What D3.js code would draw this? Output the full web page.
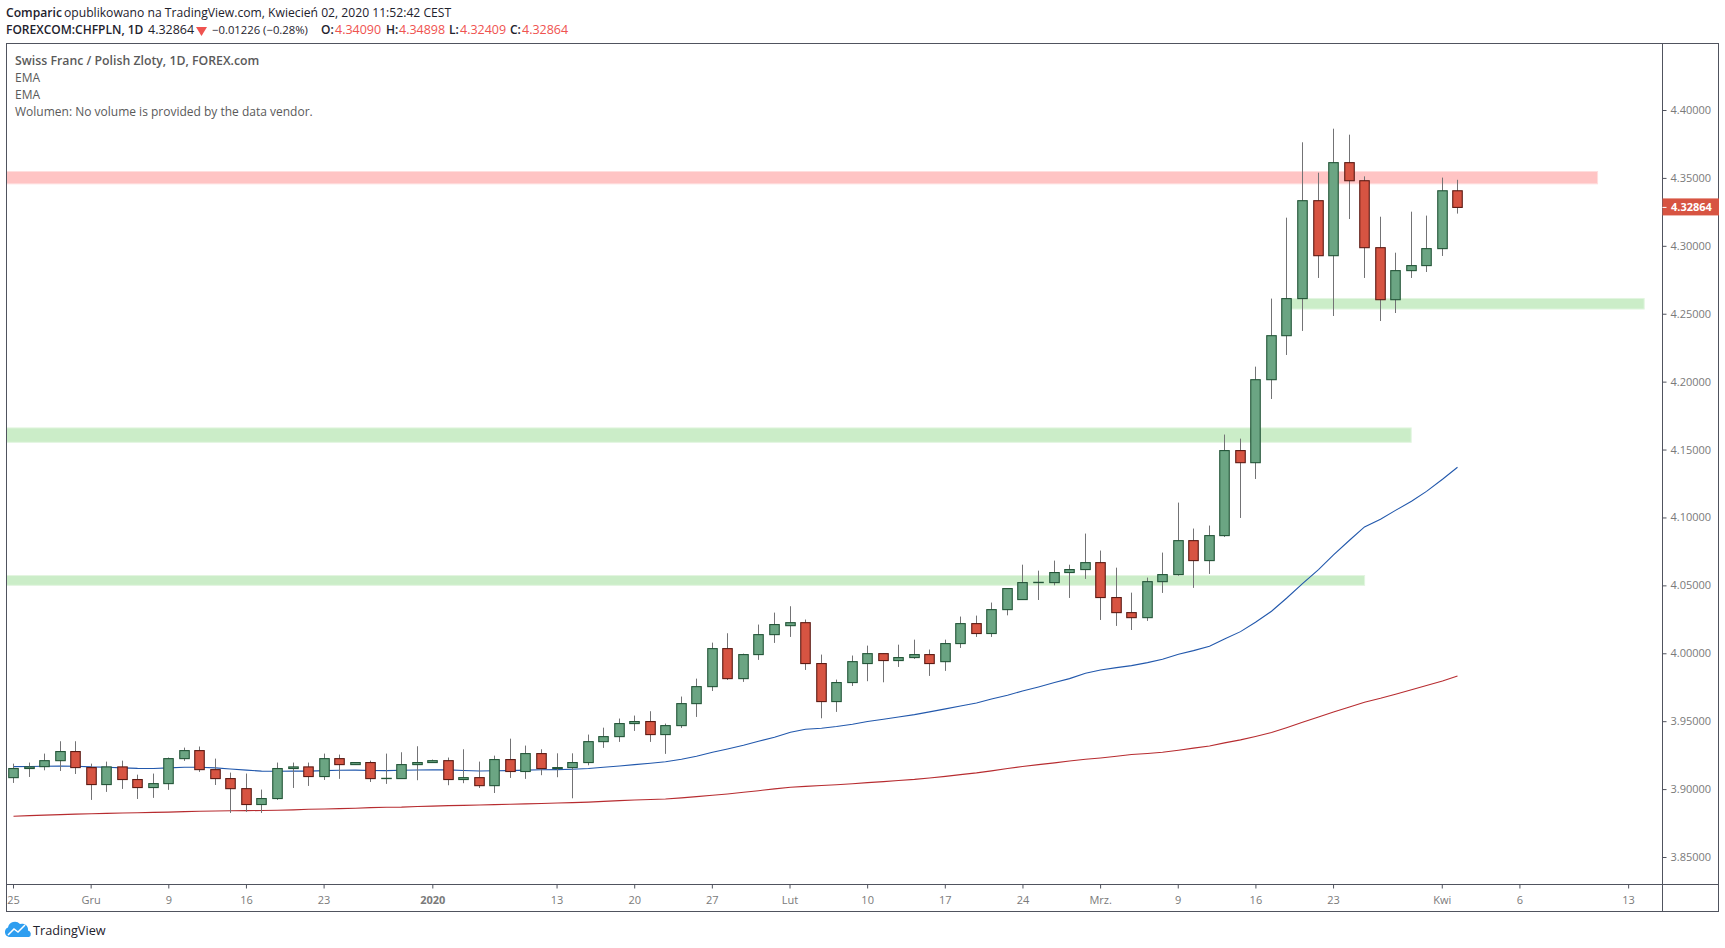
<!DOCTYPE html>
<html>
<head>
<meta charset="utf-8">
<script src="https://cdn.jsdelivr.net/npm/d3@7"></script>
<style>
  html, body { margin: 0; padding: 0; background: #fff; }
  svg { display: block; }
  text { font-family: "Open Sans", sans-serif; }
  .axis path.domain { display: none; }
  .axis line { stroke: #50535e; }
  .axis text { fill: #7a7a7a; font-size: 11px; font-family: "Open Sans", sans-serif; }
</style>
</head>
<body>
<svg id="chart" width="1725" height="948"></svg>
<script>
// CHF/PLN daily candles (index 0 = 25 Nov 2019, weekdays only)
const opens = [
  3.9088, 3.9155, 3.9169, 3.9213, 3.9280, 3.9162, 3.9037, 3.9167, 3.9074, 3.9015,
  3.9044, 3.9228, 3.9287, 3.9147, 3.9081, 3.9007, 3.8890, 3.8934, 3.9155, 3.9167,
  3.9096, 3.9228, 3.9184, 3.9199, 3.9081, 3.9081, 3.9184, 3.9199, 3.9213, 3.9074,
  3.9088, 3.9029, 3.9221, 3.9133, 3.9265, 3.9155, 3.9162, 3.9199, 3.9353, 3.9390,
  3.9486, 3.9501, 3.9405, 3.9471, 3.9633, 3.9758, 4.0038, 3.9817, 3.9994, 4.0141,
  4.0207, 4.0229, 3.9928, 3.9648, 3.9788, 3.9928, 4.0001, 3.9950, 3.9972, 3.9994,
  3.9942, 4.0075, 4.0222, 4.0149, 4.0325, 4.0399, 4.0524, 4.0524, 4.0598, 4.0620,
  4.0671, 4.0414, 4.0303, 4.0266, 4.0531, 4.0583, 4.0833, 4.0686, 4.0870, 4.1496,
  4.1407, 4.2018, 4.2342, 4.2615, 4.3336, 4.2931, 4.3616, 4.3483, 4.2990, 4.2607,
  4.2821, 4.2858, 4.2983, 4.3409
];
const highs = [
  3.9191, 3.9199, 3.9265, 3.9356, 3.9356, 3.9191, 3.9206, 3.9213, 3.9110, 3.9118,
  3.9236, 3.9309, 3.9317, 3.9228, 3.9125, 3.9118, 3.9000, 3.9199, 3.9199, 3.9199,
  3.9265, 3.9258, 3.9199, 3.9213, 3.9265, 3.9275, 3.9319, 3.9221, 3.9236, 3.9297,
  3.9206, 3.9250, 3.9375, 3.9324, 3.9297, 3.9267, 3.9267, 3.9405, 3.9456, 3.9523,
  3.9545, 3.9577, 3.9486, 3.9685, 3.9817, 4.0082, 4.0151, 4.0001, 4.0215, 4.0303,
  4.0350, 4.0252, 3.9994, 3.9810, 3.9987, 4.0060, 4.0003, 4.0067, 4.0104, 4.0031,
  4.0104, 4.0274, 4.0281, 4.0377, 4.0480, 4.0656, 4.0612, 4.0686, 4.0656, 4.0885,
  4.0760, 4.0634, 4.0450, 4.0561, 4.0745, 4.1113, 4.0922, 4.0944, 4.1614, 4.1584,
  4.2114, 4.2615, 4.3211, 4.3766, 4.3542, 4.3866, 4.3822, 4.3515, 4.3218, 4.2953,
  4.3255, 4.3226, 4.3506, 4.34898
];
const lows = [
  3.9049, 3.9093, 3.9142, 3.9137, 3.9115, 3.8924, 3.8983, 3.9005, 3.8931, 3.8939,
  3.8998, 3.9211, 3.9130, 3.9034, 3.8828, 3.8836, 3.8828, 3.8924, 3.9012, 3.9027,
  3.9071, 3.9079, 3.9184, 3.9056, 3.9042, 3.9081, 3.9069, 3.9199, 3.9032, 3.9047,
  3.9012, 3.8975, 3.9086, 3.9079, 3.9106, 3.9091, 3.8936, 3.9179, 3.9307, 3.9351,
  3.9432, 3.9351, 3.9263, 3.9454, 3.9535, 3.9726, 3.9807, 3.9793, 3.9955, 4.0080,
  4.0124, 3.9881, 3.9525, 3.9572, 3.9763, 3.9798, 3.9790, 3.9903, 3.9962, 3.9837,
  3.9874, 4.0043, 4.0124, 4.0124, 4.0283, 4.0399, 4.0396, 4.0504, 4.0411, 4.0551,
  4.0249, 4.0205, 4.0175, 4.0242, 4.0448, 4.0575, 4.0485, 4.0588, 4.0860, 4.1000,
  4.1287, 4.1876, 4.2200, 4.2377, 4.2767, 4.2487, 4.3201, 4.2767, 4.2450, 4.2509,
  4.2767, 4.2811, 4.2929, 4.32409
];
const closes = [
  3.9155, 3.9167, 3.9213, 3.9280, 3.9162, 3.9037, 3.9167, 3.9074, 3.9015, 3.9044,
  3.9228, 3.9287, 3.9147, 3.9081, 3.9007, 3.8890, 3.8934, 3.9155, 3.9167, 3.9096,
  3.9228, 3.9184, 3.9199, 3.9081, 3.9083, 3.9184, 3.9199, 3.9213, 3.9074, 3.9088,
  3.9029, 3.9221, 3.9133, 3.9265, 3.9155, 3.9162, 3.9199, 3.9353, 3.9390, 3.9486,
  3.9501, 3.9405, 3.9471, 3.9633, 3.9758, 4.0038, 3.9817, 3.9994, 4.0141, 4.0215,
  4.0229, 3.9928, 3.9648, 3.9788, 3.9942, 4.0001, 3.9950, 3.9972, 3.9994, 3.9928,
  4.0075, 4.0222, 4.0149, 4.0325, 4.0480, 4.0524, 4.0526, 4.0598, 4.0620, 4.0671,
  4.0414, 4.0303, 4.0266, 4.0531, 4.0583, 4.0833, 4.0686, 4.0870, 4.1496, 4.1407,
  4.2018, 4.2342, 4.2615, 4.3336, 4.2931, 4.3616, 4.3483, 4.2990, 4.2607, 4.2821,
  4.2858, 4.2983, 4.3409, 4.32864
];
const emaFast = [
  3.9169, 3.9170, 3.9172, 3.9174, 3.9172, 3.9167, 3.9165, 3.9160, 3.9156, 3.9155,
  3.9160, 3.9164, 3.9164, 3.9160, 3.9152, 3.9143, 3.9136, 3.9135, 3.9136, 3.9136,
  3.9140, 3.9142, 3.9143, 3.9141, 3.9140, 3.9142, 3.9144, 3.9145, 3.9145, 3.9141,
  3.9137, 3.9139, 3.9140, 3.9143, 3.9146, 3.9147, 3.9150, 3.9155, 3.9164, 3.9174,
  3.9184, 3.9194, 3.9205, 3.9224, 3.9245, 3.9275, 3.9299, 3.9326, 3.9356, 3.9385,
  3.9422, 3.9444, 3.9452, 3.9464, 3.9481, 3.9501, 3.9518, 3.9535, 3.9552, 3.9572,
  3.9594, 3.9616, 3.9638, 3.9667, 3.9694, 3.9726, 3.9756, 3.9788, 3.9817, 3.9856,
  3.9881, 3.9898, 3.9913, 3.9935, 3.9960, 3.9996, 4.0023, 4.0055, 4.0109, 4.0163,
  4.0232, 4.0313, 4.0409, 4.0517, 4.0620, 4.0728, 4.0836, 4.0934, 4.0990, 4.1056,
  4.1123, 4.1196, 4.1285, 4.1373
];
const emaSlow = [
  3.8804, 3.8808, 3.8812, 3.8816, 3.8819, 3.8822, 3.8825, 3.8828, 3.8830, 3.8832,
  3.8834, 3.8838, 3.8840, 3.8842, 3.8844, 3.8845, 3.8846, 3.8848, 3.8851, 3.8855,
  3.8857, 3.8860, 3.8863, 3.8867, 3.8870, 3.8871, 3.8875, 3.8878, 3.8882, 3.8884,
  3.8887, 3.8889, 3.8892, 3.8895, 3.8898, 3.8901, 3.8904, 3.8908, 3.8913, 3.8919,
  3.8923, 3.8927, 3.8931, 3.8939, 3.8948, 3.8958, 3.8968, 3.8980, 3.8992, 3.9005,
  3.9017, 3.9024, 3.9030, 3.9036, 3.9043, 3.9051, 3.9059, 3.9067, 3.9075, 3.9085,
  3.9097, 3.9110, 3.9123, 3.9138, 3.9155, 3.9170, 3.9184, 3.9197, 3.9210, 3.9223,
  3.9233, 3.9246, 3.9258, 3.9266, 3.9275, 3.9290, 3.9305, 3.9321, 3.9344, 3.9366,
  3.9391, 3.9420, 3.9456, 3.9496, 3.9534, 3.9572, 3.9608, 3.9643, 3.9672, 3.9702,
  3.9735, 3.9767, 3.9800, 3.9836
];

// support / resistance boxes: [first bar, last bar, top price, bottom price, kind]
const zones = [
  [-1, 102, 4.3551, 4.3460, 'red'],
  [82, 105, 4.2616, 4.2538, 'green'],
  [-1, 90, 4.1663, 4.1557, 'green'],
  [-1, 87, 4.0576, 4.0504, 'green']
];

const priceTicks = [3.85, 3.90, 3.95, 4.00, 4.05, 4.10, 4.15, 4.20, 4.25, 4.30, 4.35, 4.40];
// after the last bar the time scale counts calendar days, so Kwi -> 6 is 5 slots
const timeTickBars = [0, 5, 10, 15, 20, 27, 35, 40, 45, 50, 55, 60, 65, 70, 75, 80, 85, 92, 97, 104];
const timeTickLabels = ['25', 'Gru', '9', '16', '23', '2020', '13', '20', '27', 'Lut', '10', '17', '24', 'Mrz.', '9', '16', '23', 'Kwi', '6', '13'];

const lastPrice = 4.32864;

const upFill = '#6ba583', upEdge = '#225437';
const downFill = '#d75442', downEdge = '#5b1a13';
const frameColor = '#50535e';

const plotLeft = 6.5, plotTop = 43.5, plotRight = 1662.5, plotBottom = 884.5, outerRight = 1718.5, outerBottom = 911.5;

const svg = d3.select('#chart');
const x = d3.scaleLinear().domain([0, 93]).range([13.5, 1457.8]);
const y = d3.scaleLinear().domain([3.85, 4.40]).range([857.5, 110.5]);
const snap = i => Math.floor(x(i)) + 0.5;

const defs = svg.append('defs');
defs.append('clipPath').attr('id', 'plotClip').append('rect')
  .attr('x', plotLeft).attr('y', plotTop).attr('width', plotRight - plotLeft).attr('height', plotBottom - plotTop);

const plot = svg.append('g').attr('clip-path', 'url(#plotClip)');

// zones
plot.selectAll('rect.zone').data(zones).join('rect')
  .attr('class', 'zone')
  .attr('x', d => x(d[0]))
  .attr('y', d => y(d[2]))
  .attr('width', d => x(d[1]) - x(d[0]))
  .attr('height', d => y(d[3]) - y(d[2]))
  .attr('fill', d => d[4] === 'red' ? '#ffc4c4' : '#cbedc8')
  .attr('stroke', d => d[4] === 'red' ? '#ffdede' : '#e2f5e0')
  .attr('stroke-width', 1);

// EMA lines
const line = d3.line().x((d, i) => snap(i)).y(d => y(d));
plot.append('path').datum(emaSlow).attr('d', line)
  .attr('fill', 'none').attr('stroke', '#b72c30').attr('stroke-width', 1.1);
plot.append('path').datum(emaFast).attr('d', line)
  .attr('fill', 'none').attr('stroke', '#2258ac').attr('stroke-width', 1.1);

// candles
const bars = d3.range(opens.length);
plot.selectAll('line.wick').data(bars).join('line')
  .attr('class', 'wick')
  .attr('x1', snap).attr('x2', snap)
  .attr('y1', i => y(highs[i])).attr('y2', i => y(lows[i]))
  .attr('stroke', '#737375').attr('stroke-width', 1);

plot.selectAll('rect.body').data(bars).join('rect')
  .attr('class', 'body')
  .attr('x', i => snap(i) - 4.75)
  .attr('width', 9.5)
  .attr('y', i => y(Math.max(opens[i], closes[i])))
  .attr('height', i => Math.abs(y(opens[i]) - y(closes[i])))
  .attr('fill', i => closes[i] >= opens[i] ? upFill : downFill)
  .attr('stroke', i => closes[i] >= opens[i] ? upEdge : downEdge)
  .attr('stroke-width', 1.1);

// frame
svg.append('rect').attr('x', plotLeft).attr('y', plotTop)
  .attr('width', outerRight - plotLeft).attr('height', outerBottom - plotTop)
  .attr('fill', 'none').attr('stroke', frameColor);
svg.append('line').attr('x1', plotRight).attr('x2', plotRight).attr('y1', plotTop).attr('y2', outerBottom)
  .attr('stroke', frameColor);
svg.append('line').attr('x1', plotLeft).attr('x2', outerRight).attr('y1', plotBottom).attr('y2', plotBottom)
  .attr('stroke', frameColor);

// axes
svg.append('g').attr('class', 'axis').attr('transform', `translate(${plotRight},0)`)
  .call(d3.axisRight(y).offset(0).tickValues(priceTicks).tickFormat(d3.format('.5f')).tickSize(4).tickPadding(4));

const timeAxis = svg.append('g').attr('class', 'axis').attr('transform', `translate(-0.5,${plotBottom})`)
  .call(d3.axisBottom(x).tickValues(timeTickBars)
    .tickFormat((d, i) => timeTickLabels[i]).tickSize(4).tickPadding(8));
timeAxis.selectAll('text').filter(d => d === 27).style('font-weight', 700);

// last price tag
svg.append('rect').attr('x', plotRight).attr('y', y(lastPrice) - 9).attr('width', outerRight - plotRight + 0.5).attr('height', 17)
  .attr('fill', downFill);
svg.append('line').attr('x1', plotRight).attr('x2', plotRight + 4).attr('y1', y(lastPrice)).attr('y2', y(lastPrice))
  .attr('stroke', '#fff');
svg.append('text').attr('x', plotRight + 8.5).attr('y', y(lastPrice) + 3.5)
  .attr('fill', '#fff').attr('font-size', 11).attr('font-weight', 700)
  .text(d3.format('.5f')(lastPrice));

// header text
const headerLine1 = [
  { t: 'Comparic', x: 6, bold: true, size: 12.15, c: '#1e222d' },
  { t: 'opublikowano na TradingView.com, Kwiecień 02, 2020 11:52:42 CEST', x: 64, size: 12.15, c: '#1e222d' }
];
const headerLine2 = [
  { t: 'FOREXCOM:CHFPLN, 1D', x: 6, bold: true, size: 12, c: '#1e222d' },
  { t: '4.32864', x: 148, size: 12.5, c: '#1e222d' },
  { t: '−0.01226 (−0.28%)', x: 212, size: 11.3, c: '#1e222d' },
  { t: 'O:', x: 321, bold: true, size: 12, c: '#1e222d' },
  { t: '4.34090', x: 335, size: 12.5, c: '#ef5350' },
  { t: 'H:', x: 386, bold: true, size: 12, c: '#1e222d' },
  { t: '4.34898', x: 399, size: 12.5, c: '#ef5350' },
  { t: 'L:', x: 449, bold: true, size: 12, c: '#1e222d' },
  { t: '4.32409', x: 460, size: 12.5, c: '#ef5350' },
  { t: 'C:', x: 510, bold: true, size: 12, c: '#1e222d' },
  { t: '4.32864', x: 522, size: 12.5, c: '#ef5350' }
];
const drawHeader = (rows, baseline) => svg.append('g').selectAll('text').data(rows).join('text')
  .attr('x', d => d.x).attr('y', baseline)
  .attr('font-size', d => d.size)
  .attr('font-weight', d => d.bold ? 600 : 400)
  .attr('fill', d => d.c)
  .text(d => d.t);
drawHeader(headerLine1, 17);
drawHeader(headerLine2, 34);
svg.append('path').attr('d', 'M196 27 L207 27 L201.5 36 Z').attr('fill', '#ef5350');

// legend inside the plot
const legendRows = [
  { t: 'Swiss Franc / Polish Zloty, 1D, FOREX.com', bold: true },
  { t: 'EMA' },
  { t: 'EMA' },
  { t: 'Wolumen: No volume is provided by the data vendor.' }
];
svg.append('g').selectAll('text').data(legendRows).join('text')
  .attr('x', 15).attr('y', (d, i) => 64.5 + i * 17)
  .attr('font-size', d => d.bold ? 12.3 : 12)
  .attr('font-weight', d => d.bold ? 600 : 400)
  .attr('fill', '#5a5a5a')
  .text(d => d.t);

// TradingView mark
const logo = svg.append('g');
logo.append('path')
  .attr('d', 'M9 937 a5 5 0 0 1 -1 -9.5 a7 7 0 0 1 12 -3.5 a6 6 0 0 1 8 6.5 a3.5 3.5 0 0 1 1 6.5 z')
  .attr('fill', '#2e9ef0');
logo.append('path').attr('d', 'M8 935 L14 929 L18 932 L25 925')
  .attr('fill', 'none').attr('stroke', '#fff').attr('stroke-width', 1.5);
svg.append('text').attr('x', 33).attr('y', 934.5).attr('font-size', 12.7).attr('fill', '#1e222d').text('TradingView');
</script>
</body>
</html>
